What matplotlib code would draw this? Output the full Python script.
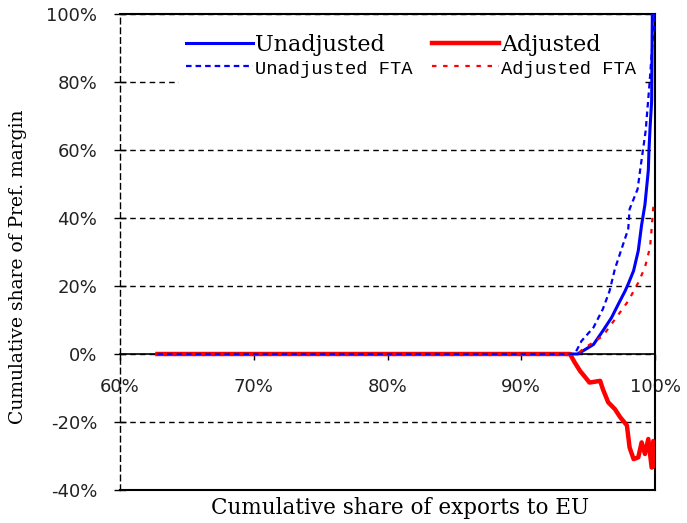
import matplotlib.pyplot as plt
from matplotlib.ticker import FuncFormatter

# cumulative share of exports to EU (%) and cumulative share of pref. margin (%)
unadj_x = [62.8, 94.2, 94.4, 95.4, 96.1, 96.75, 97.25, 97.76, 98.0, 98.4, 98.75,
           99.0, 99.25, 99.5, 99.55, 99.63, 99.75, 99.8, 100]
unadj_y = [0, 0, 0.4, 2.8, 6.8, 10.7, 14.6, 18.5, 20.6, 24.5, 30.4,
           38, 44, 54, 60, 66.5, 74.4, 100, 100]

unadj_fta_x = [62.8, 94.0, 94.5, 95.4, 96.1, 96.6, 97.0, 97.5, 98.0, 98.1,
               98.7, 98.9, 99.3, 99.6, 99.8, 100]
unadj_fta_y = [0, 0, 3.8, 7.8, 13.2, 18.5, 25, 30.9, 36.8, 42.6,
               48.5, 54.4, 65.6, 80, 91, 100]

adj_x = [62.8, 93.64, 94.0, 94.4, 94.8, 95.1, 95.9, 96.1, 96.5, 97.0, 97.4, 97.9,
         98.1, 98.4, 98.75, 99.0, 99.25, 99.5, 99.75, 99.87, 100]
adj_y = [0, 0, -2.5, -5, -6.9, -8.4, -7.9, -10.3, -14.2, -16.2, -18.6, -21,
         -27.5, -30.9, -30.4, -26, -29.4, -25, -33.4, -25.6, -33]

adj_fta_x = [62.8, 94.2, 94.6, 96.1, 97.1, 98.0, 98.75, 99.25, 99.63, 99.75,
             99.87, 100]
adj_fta_y = [0, 0, 1.4, 5.3, 10.7, 15.6, 21, 25.5, 31.4, 37,
             43, 44]

x_ticks = [60, 70, 80, 90, 100]
y_ticks = [-40, -20, 0, 20, 40, 60, 80, 100]

fig = plt.figure(figsize=(6.87, 5.23), dpi=100)
ax = fig.add_axes([120 / 687, 33 / 523, 535 / 687, 476 / 523])

# lines
l1, = ax.plot(unadj_x, unadj_y, color='#0000ff', lw=2.2, zorder=3)
l3, = ax.plot(adj_x, adj_y, color='#ff0000', lw=3.2, zorder=3)
l4, = ax.plot(adj_fta_x, adj_fta_y, color='#ff0000', lw=1.6, ls=(0, (2, 3)), zorder=4)
l2, = ax.plot(unadj_fta_x, unadj_fta_y, color='#0000ff', lw=1.6, ls=(0, (2.5, 1.8)), zorder=5)

ax.set_xlim(60, 100)
ax.set_ylim(-40, 100)

# axes styling
ax.spines['bottom'].set_position(('data', 0))
ax.spines['bottom'].set_linewidth(1.2)
ax.spines['left'].set_linestyle((0, (4, 3)))
ax.spines['left'].set_linewidth(1.0)
ax.spines['top'].set_linewidth(1.5)
ax.spines['right'].set_linewidth(1.5)
ax.axhline(-40, color='k', lw=1.5, zorder=2.5, clip_on=False)

ax.yaxis.grid(True, linestyle=(0, (4, 3)), color='k', lw=1.0)
ax.set_axisbelow(True)

pct = FuncFormatter(lambda v, p: '%d%%' % v)
ax.set_xticks(x_ticks)
ax.set_yticks(y_ticks)
ax.xaxis.set_major_formatter(pct)
ax.yaxis.set_major_formatter(pct)
ax.tick_params(axis='x', direction='out', length=4, width=1, pad=13, labelsize=13)
ax.tick_params(axis='y', direction='inout', length=9, width=1, pad=12, labelsize=13)
for t in ax.get_xticklabels() + ax.get_yticklabels():
    t.set_fontfamily('DejaVu Sans')
    t.set_color('#222222')

fig.text(18 / 687, 1 - 267 / 523, 'Cumulative share of Pref. margin', rotation=90,
         ha='center', va='center', family='DejaVu Serif', fontsize=13.5)
fig.text(400 / 687, 1 - 508 / 523, 'Cumulative share of exports to EU',
         ha='center', va='center', family='DejaVu Serif', fontsize=15.5)

leg = ax.legend([l1, l2, l3, l4], ['Unadjusted', 'Unadjusted FTA', 'Adjusted', 'Adjusted FTA'],
                ncol=2, loc='upper left', mode='expand',
                bbox_to_anchor=(0.09, 0.985, 0.908, 0.01),
                prop={'family': 'DejaVu Serif', 'size': 16},
                handlelength=3.0, handletextpad=0.1, columnspacing=0.9,
                labelspacing=0.1, borderpad=0.3, frameon=True, fancybox=False,
                framealpha=1, edgecolor='none', facecolor='white')
leg.set_zorder(6)
for t in leg.get_texts()[1::2]:
    t.set_fontfamily('Liberation Mono')
    t.set_fontsize(13.5)

fig.savefig('out.png', dpi=100)
